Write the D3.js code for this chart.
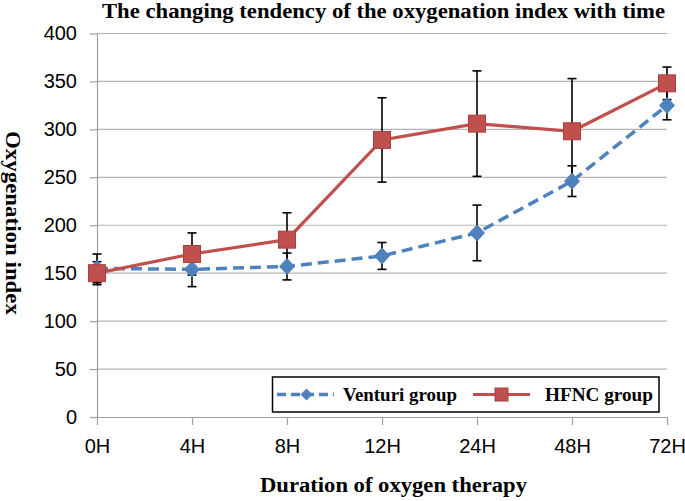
<!DOCTYPE html>
<html>
<head>
<meta charset="utf-8">
<script src="https://cdn.jsdelivr.net/npm/d3@7"></script>
<style>
  html, body { margin: 0; padding: 0; background: #fff; }
  svg { display: block; }
</style>
</head>
<body>
<svg id="chart" width="685" height="501"></svg>
<script>
const categories = ["0H", "4H", "8H", "12H", "24H", "48H", "72H"];
const venturiValues = [155, 154, 157, 168, 192, 246, 325];
const venturiErrors = [15, 18, 14, 14, 29, 16, 15];
const hfncValues = [150, 170, 185, 289, 306, 298, 348];
const hfncErrors = [12, 22, 28, 44, 55, 55, 17];
const yTicks = [0, 50, 100, 150, 200, 250, 300, 350, 400];

const seriesNames = ["Venturi group", "HFNC group"];
const titleText = "The changing tendency of the oxygenation index with time";
const xTitleText = "Duration of oxygen therapy";
const yTitleText = "Oxygenation index";

const svg = d3.select("#chart");
const plotLeft = 97, plotRight = 667, plotTop = 33.5, plotBottom = 417;

const x = d3.scalePoint().domain(categories).range([plotLeft, plotRight]);
const y = d3.scaleLinear().domain([0, 400]).range([plotBottom, plotTop]);

const gridColor = "#b4b4b4";
const axisColor = "#a0a0a0";
const blue = "#4f81bd";
const red = "#c0504d";
const redDark = "#a8403d";
const serif = "'Liberation Serif', 'Times New Roman', serif";
const sans = "'Liberation Sans', Arial, sans-serif";

// gridlines
svg.append("g").selectAll("line").data(yTicks.filter(d => d > 0)).join("line")
  .attr("x1", plotLeft).attr("x2", plotRight)
  .attr("y1", d => y(d)).attr("y2", d => y(d))
  .attr("stroke", gridColor).attr("stroke-width", 1.2);

// y axis
const yAxis = svg.append("g").attr("transform", `translate(${plotLeft},0)`)
  .call(d3.axisLeft(y).tickValues(yTicks).tickSize(7).tickPadding(13).tickSizeOuter(0));
yAxis.select(".domain").attr("stroke", axisColor).attr("stroke-width", 1.2);
yAxis.selectAll(".tick line").attr("stroke", axisColor).attr("stroke-width", 1.2);
yAxis.selectAll(".tick text").attr("font-family", sans).attr("font-size", 20).attr("fill", "#000");

// x axis
const xAxis = svg.append("g").attr("transform", `translate(0,${plotBottom})`)
  .call(d3.axisBottom(x).tickSize(8).tickPadding(14).tickSizeOuter(0));
xAxis.select(".domain").attr("stroke", axisColor).attr("stroke-width", 1.2);
xAxis.selectAll(".tick line").attr("stroke", axisColor).attr("stroke-width", 1.2);
xAxis.selectAll(".tick text").attr("font-family", sans).attr("font-size", 20).attr("fill", "#000");

const line = d3.line().x((d, i) => x(categories[i])).y(d => y(d));

// lines
svg.append("path").datum(venturiValues).attr("d", line)
  .attr("fill", "none").attr("stroke", blue).attr("stroke-width", 3.5)
  .attr("stroke-dasharray", "11,6");
svg.append("path").datum(hfncValues).attr("d", line)
  .attr("fill", "none").attr("stroke", red).attr("stroke-width", 3.2);

// error bars
function errorBars(values, errs) {
  const g = svg.append("g").attr("stroke", "#000").attr("stroke-width", 1.6);
  values.forEach((v, i) => {
    const cx = x(categories[i]);
    const hi = y(v + errs[i]), lo = y(v - errs[i]);
    g.append("line").attr("x1", cx).attr("x2", cx).attr("y1", hi).attr("y2", lo);
    g.append("line").attr("x1", cx - 4.5).attr("x2", cx + 4.5).attr("y1", hi).attr("y2", hi);
    g.append("line").attr("x1", cx - 4.5).attr("x2", cx + 4.5).attr("y1", lo).attr("y2", lo);
  });
}
errorBars(venturiValues, venturiErrors);
errorBars(hfncValues, hfncErrors);

// markers
const diamond = (cx, cy, w, h) => `M${cx},${cy - h / 2}L${cx + w / 2},${cy}L${cx},${cy + h / 2}L${cx - w / 2},${cy}Z`;
svg.append("g").selectAll("path").data(venturiValues).join("path")
  .attr("d", (d, i) => diamond(x(categories[i]), y(d), 15, 16))
  .attr("fill", blue).attr("stroke", blue).attr("stroke-width", 1);
svg.append("g").selectAll("rect").data(hfncValues).join("rect")
  .attr("x", (d, i) => x(categories[i]) - 8.5).attr("y", d => y(d) - 8.5)
  .attr("width", 17).attr("height", 17)
  .attr("fill", red).attr("stroke", redDark).attr("stroke-width", 1);

// legend
const lg = svg.append("g");
lg.append("rect").attr("x", 272.5).attr("y", 377).attr("width", 386.5).attr("height", 35)
  .attr("fill", "#fff").attr("stroke", "#000").attr("stroke-width", 1.5);
const ly = 394.5;
lg.append("line").attr("x1", 277).attr("x2", 334).attr("y1", ly).attr("y2", ly)
  .attr("stroke", blue).attr("stroke-width", 3.5).attr("stroke-dasharray", "9,5");
lg.append("path").attr("d", diamond(306.5, ly, 12, 12)).attr("fill", blue);
lg.append("text").attr("x", 343).attr("y", 401).text(seriesNames[0])
  .attr("font-family", serif).attr("font-weight", "bold").attr("font-size", 19)
  .attr("textLength", 114).attr("lengthAdjust", "spacingAndGlyphs");
lg.append("line").attr("x1", 473).attr("x2", 530).attr("y1", ly).attr("y2", ly)
  .attr("stroke", red).attr("stroke-width", 3.2);
lg.append("rect").attr("x", 501.5 - 6.5).attr("y", ly - 6.5).attr("width", 13).attr("height", 13)
  .attr("fill", red).attr("stroke", redDark).attr("stroke-width", 1);
lg.append("text").attr("x", 545).attr("y", 401).text(seriesNames[1])
  .attr("font-family", serif).attr("font-weight", "bold").attr("font-size", 19)
  .attr("textLength", 108).attr("lengthAdjust", "spacingAndGlyphs");

// titles
svg.append("text").attr("x", 102).attr("y", 18).text(titleText)
  .attr("font-family", serif).attr("font-weight", "bold").attr("font-size", 20)
  .attr("textLength", 563).attr("lengthAdjust", "spacingAndGlyphs");
svg.append("text").attr("x", 260).attr("y", 492).text(xTitleText)
  .attr("font-family", serif).attr("font-weight", "bold").attr("font-size", 20)
  .attr("textLength", 267).attr("lengthAdjust", "spacingAndGlyphs");
svg.append("text")
  .attr("transform", "translate(6,131) rotate(90)")
  .text(yTitleText)
  .attr("font-family", serif).attr("font-weight", "bold").attr("font-size", 20)
  .attr("textLength", 184).attr("lengthAdjust", "spacingAndGlyphs");
</script>
</body>
</html>
